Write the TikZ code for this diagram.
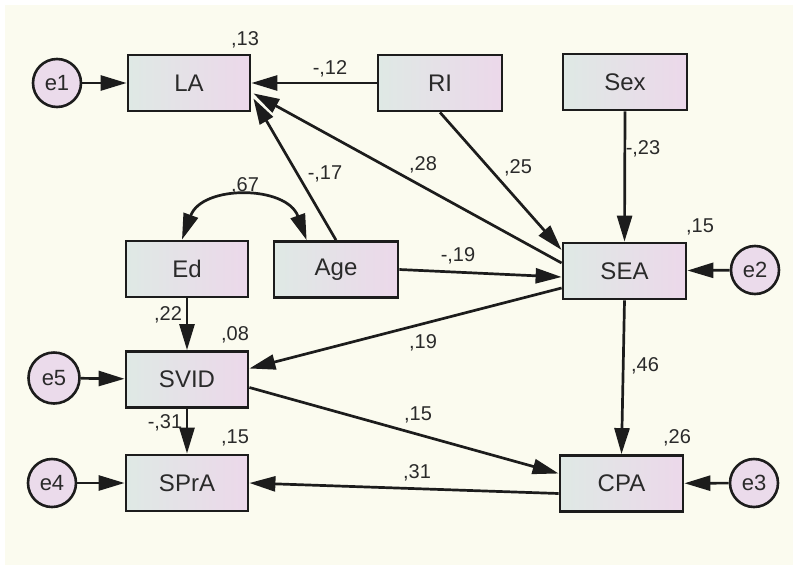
\documentclass[tikz,border=0pt]{standalone}
\usepackage{fontspec}
\setmainfont{Liberation Sans}
\usetikzlibrary{arrows.meta,calc}
\definecolor{bgc}{HTML}{FBFBEF}
\definecolor{boxl}{HTML}{DFE9E5}
\definecolor{boxr}{HTML}{ECD8EA}
\definecolor{circc}{HTML}{EBDBEB}
\definecolor{linec}{HTML}{1C1C1C}
\definecolor{txtc}{HTML}{2A2A2A}
\begin{document}
\begin{tikzpicture}[x=1pt,y=-1pt,
  var/.style={draw=linec, line width=2.8pt, left color=boxl, right color=boxr,
    minimum width=122pt, minimum height=56pt, inner sep=0pt,
    font=\fontsize{24}{26}\selectfont, text=txtc},
  err/.style={circle, draw=linec, line width=2.6pt, fill=circc,
    minimum size=48pt, inner sep=0pt, font=\fontsize{22}{24}\selectfont, text=txtc},
  arr/.style={draw=linec, line width=2.7pt, -{Triangle[length=26pt,width=15pt]}},
  dbl/.style={draw=linec, line width=2.7pt, {Triangle[length=26pt,width=15pt]}-{Triangle[length=26pt,width=15pt]}},
  lbl/.style={font=\fontsize{20}{22}\selectfont, text=txtc, inner sep=0pt}]
\useasboundingbox (0,0) rectangle (795,568);
\fill[white] (0,0) rectangle (795,568);
\fill[bgc] (5,5) rectangle (793,565);

% observed variables
\node[var] (LA) at (189,83) {LA};
\node[var, minimum width=124pt] (RI) at (440,83) {RI};
\node[var, minimum width=124pt] (Sex) at (625,82) {Sex};
\node[var] (Ed) at (187,269) {Ed};
\node[var, minimum width=124pt] (Age) at (336,269.5) {Age};
\node[var, minimum width=123pt] (SEA) at (624.5,271) {SEA};
\node[var] (SVID) at (187,379.5) {SVID};
\node[var] (SPrA) at (187,483) {SPrA};
\node[var, minimum width=123pt] (CPA) at (621.5,483.5) {CPA};

% error terms
\node[err] (e1) at (57,83) {e1};
\node[err] (e2) at (755,270) {e2};
\node[err, minimum size=51pt] (e5) at (54,378) {e5};
\node[err] (e4) at (52,483) {e4};
\node[err] (e3) at (754,483) {e3};

% anchor points
\coordinate (LAa) at ($(LA.south east)+(2,-14)$);
\coordinate (LAs) at ($(LA.south east)+(2,-19)$);
\coordinate (SEAri) at ($(SEA.west)+(0,-21)$);
\coordinate (SEAla) at ($(SEA.west)+(0,-8)$);
\coordinate (SEAage) at ($(SEA.west)+(0,6)$);
\coordinate (SEAsv) at ($(SEA.west)+(0,17)$);
\coordinate (SVIDin) at ($(SVID.east)+(0,-11)$);
\coordinate (SVIDout) at ($(SVID.east)+(0,8)$);
\coordinate (CPAin) at ($(CPA.west)+(0,-10)$);
\coordinate (CPAout) at ($(CPA.west)+(0,10)$);
\coordinate (EdT) at ($(Ed.north)+(-5,0)$);
\coordinate (AgeT) at ($(Age.north west)+(34,0)$);

% paths
\draw[arr] (e1) -- (LA);
\draw[arr] (RI.west) -- (LA.east);
\draw[arr] (Age.north) -- (LAa);
\draw[arr] (SEAla) -- (LAs);
\draw[arr] (RI.south) -- (SEAri);
\draw[arr] (Sex.south) -- (SEA.north);
\draw[arr] (Age.east) -- (SEAage);
\draw[arr] (e2) -- (SEA);
\draw[arr] (SEAsv) -- (SVIDin);
\draw[dbl] (EdT) .. controls ($(EdT)+(20,-55)$) and ($(AgeT)+(-20,-55)$) .. (AgeT);
\draw[arr] (Ed.south) -- (SVID.north);
\draw[arr] (e5) -- (SVID);
\draw[arr] (SVIDout) -- (CPAin);
\draw[arr] (SEA.south) -- (CPA.north);
\draw[arr] (e3) -- (CPA);
\draw[arr] (CPAout) -- (SPrA.east);
\draw[arr] (SVID.south) -- (SPrA.north);
\draw[arr] (e4) -- (SPrA);

% labels
\node[lbl] (l1) at (245,40) {,13};
\node[lbl] (l2) at (330,69) {-,12};
\node[lbl] (l3) at (423,165) {,28};
\node[lbl] (l4) at (518,168) {,25};
\node[lbl] (l5) at (643,149) {-,23};
\node[lbl] (l6) at (325,174) {-,17};
\node[lbl] (l7) at (245,186) {,67};
\node[lbl] (l8) at (700,227) {,15};
\node[lbl] (l9) at (458,256) {-,19};
\node[lbl] (l10) at (423,343) {,19};
\node[lbl] (l11) at (645,366) {,46};
\node[lbl] (l12) at (168,315) {,22};
\node[lbl] (l13) at (235,335) {,08};
\node[lbl] (l14) at (165,423) {-,31};
\node[lbl] (l15) at (235,438) {,15};
\node[lbl] (l16) at (418,415) {,15};
\node[lbl] (l17) at (417,473) {,31};
\node[lbl] (l18) at (677,438) {,26};
\end{tikzpicture}
\end{document}
